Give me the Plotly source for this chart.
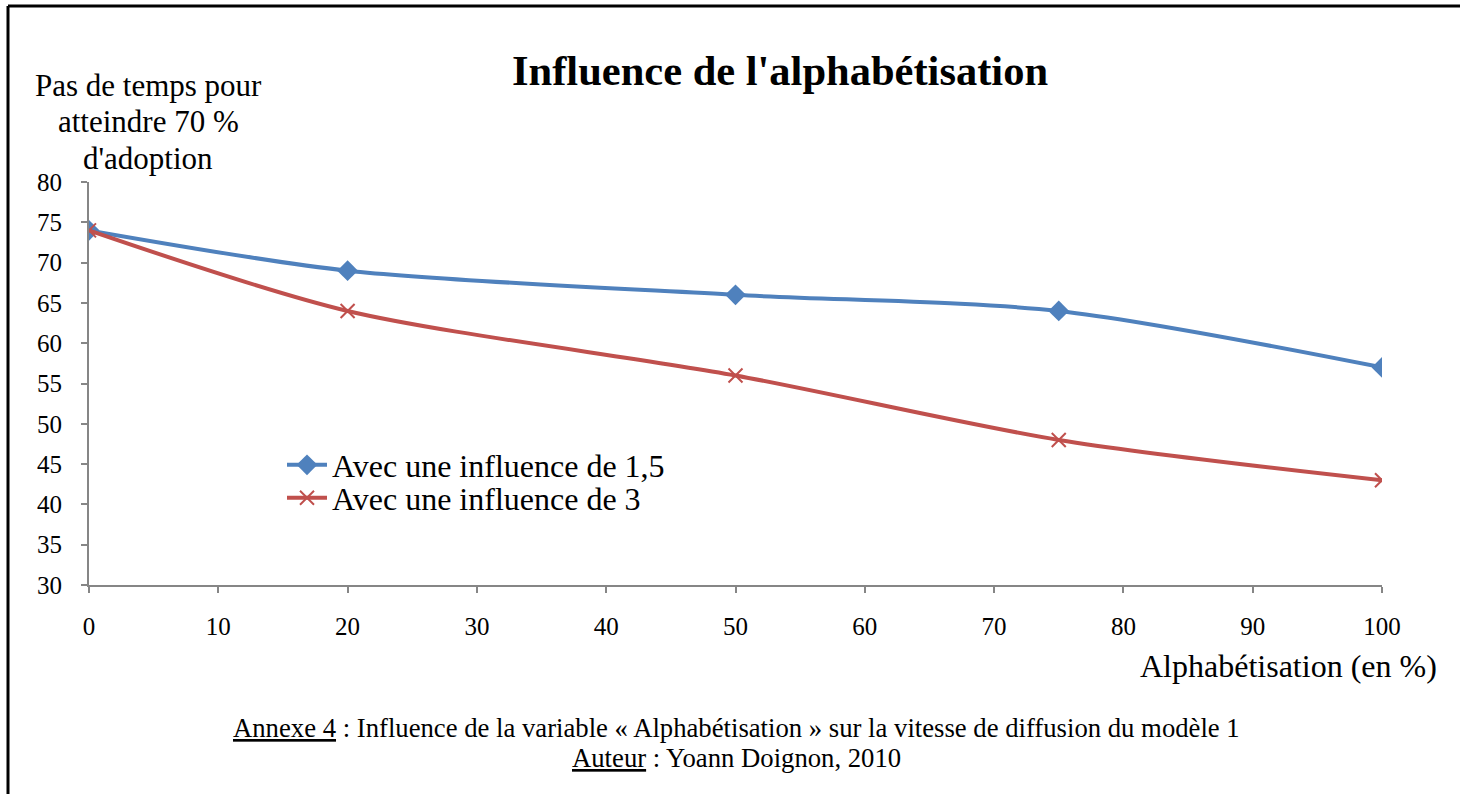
import plotly.graph_objects as go

# Literacy rate (%) and time steps needed to reach 70 % adoption
alphabetisation = [0, 20, 50, 75, 100]
influence_1_5 = [74, 69, 66, 64, 57]
influence_3 = [74, 64, 56, 48, 43]

x_ticks = list(range(0, 101, 10))
y_ticks = list(range(30, 81, 5))

W, H = 1460, 794
L, R, T, B = 89, 78, 182, 209
pw, ph = W - L - R, H - T - B


def px_x(px):
    return (px - L) / pw


def px_y(py):
    return (H - B - py) / ph


serif = "Liberation Serif, Times New Roman, serif"

fig = go.Figure()
fig.add_trace(go.Scatter(
    x=alphabetisation, y=influence_1_5, mode="lines+markers",
    name="Avec une influence de 1,5", legend="legend",
    line=dict(color="#4F81BD", width=4, shape="spline", smoothing=0.8),
    marker=dict(symbol="diamond", size=16, color="#4F81BD"),
))
fig.add_trace(go.Scatter(
    x=alphabetisation, y=influence_3, mode="lines+markers",
    name="Avec une influence de 3", legend="legend2",
    line=dict(color="#C0504D", width=4, shape="spline", smoothing=0.8),
    marker=dict(symbol="x-thin-open", size=14, color="#C0504D",
                line=dict(width=2, color="#C0504D")),
))

axis_common = dict(
    showgrid=False, zeroline=False, showline=True, linecolor="#868686",
    linewidth=2, ticks="outside", tickcolor="#868686", tickwidth=2,
    ticklen=6, tickfont=dict(family=serif, size=25, color="black"),
)
fig.update_xaxes(range=[0, 100], tickvals=x_ticks, ticklabelstandoff=12,
                 **axis_common)
fig.update_yaxes(range=[30, 80], tickvals=y_ticks, ticklabelstandoff=14,
                 **axis_common)

annotations = [
    dict(text="<b>Influence de l'alphabétisation</b>", x=px_x(780), y=px_y(71),
         font=dict(size=42.5)),
    dict(text="Pas de temps pour", x=px_x(148), y=px_y(86), font=dict(size=31)),
    dict(text="atteindre 70 %", x=px_x(148), y=px_y(122), font=dict(size=31)),
    dict(text="d'adoption", x=px_x(148), y=px_y(158), font=dict(size=31)),
    dict(text="Alphabétisation (en %)", x=px_x(1439), y=px_y(666),
         xanchor="right", font=dict(size=32)),
    dict(text="<u>Annexe 4</u> : Influence de la variable « Alphabétisation » "
              "sur la vitesse de diffusion du modèle 1",
         x=px_x(736), y=px_y(728), font=dict(size=26.7)),
    dict(text="<u>Auteur</u> : Yoann Doignon, 2010",
         x=px_x(736), y=px_y(758), font=dict(size=26.7)),
]
for a in annotations:
    a.setdefault("xanchor", "center")
    a.update(xref="paper", yref="paper", yanchor="middle", showarrow=False)
    a["font"] = dict(family=serif, color="black", **a["font"])

# Frame around the figure (left and top edges)
shapes = [
    dict(type="line", xref="paper", yref="paper", x0=px_x(8), x1=px_x(8),
         y0=px_y(6), y1=px_y(800), line=dict(color="black", width=3)),
    dict(type="line", xref="paper", yref="paper", x0=px_x(8), x1=px_x(1470),
         y0=px_y(6), y1=px_y(6), line=dict(color="black", width=3)),
]

legend_style = dict(xanchor="left", yanchor="middle",
                    font=dict(family=serif, size=32, color="black"),
                    bgcolor="rgba(0,0,0,0)", itemwidth=40)

fig.update_layout(
    width=W, height=H, margin=dict(l=L, r=R, t=T, b=B),
    paper_bgcolor="white", plot_bgcolor="white", showlegend=True,
    annotations=annotations, shapes=shapes,
    legend=dict(x=px_x(282), y=px_y(465), **legend_style),
    legend2=dict(x=px_x(282), y=px_y(498), **legend_style),
)

fig.write_html("out.html")
